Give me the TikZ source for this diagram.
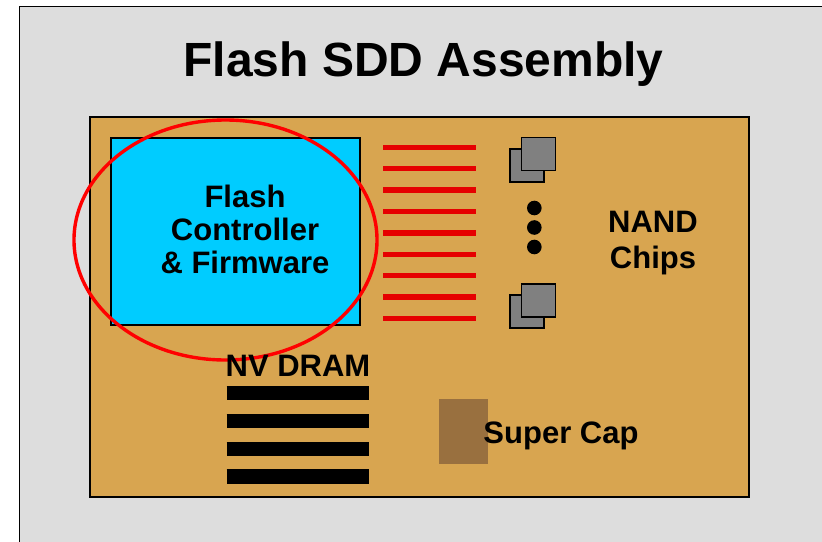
\documentclass[tikz,border=0pt]{standalone}
\usepackage{fontspec}
\setmainfont{Liberation Sans}
\usetikzlibrary{positioning}
\definecolor{bggray}{HTML}{DDDDDD}
\definecolor{boardtan}{HTML}{D8A550}
\definecolor{ctrlblue}{HTML}{00CCFF}
\definecolor{tracered}{HTML}{E60000}
\definecolor{chipgray}{HTML}{808080}
\definecolor{capbrown}{HTML}{99703F}

\begin{document}
\begin{tikzpicture}[
    x=1pt, y=-1pt,
    lbl/.style={inner sep=0pt, align=center,
                font=\fontsize{31}{32.6}\selectfont\bfseries},
    chip/.style={rectangle, fill=chipgray, draw=black, line width=1.8pt,
                 minimum width=34pt, minimum height=33pt, inner sep=0pt},
    part/.style={rectangle, draw=black, line width=1.4pt, inner sep=0pt}
  ]

  % ---- Canvas ----
  \useasboundingbox (0,0) rectangle (822,541);
  \clip (0,0) rectangle (822,541);
  \fill[white] (0,0) rectangle (822,541);
  \draw[fill=bggray, line width=1.6pt] (19.5,6.5) rectangle (860,580);

  % ---- Title ----
  \node[inner sep=0pt, font=\fontsize{48}{58}\selectfont\bfseries]
    (title) at (423.5,64.5) {Flash SDD Assembly};

  % ---- Board ----
  \node[part, fill=boardtan, minimum width=659pt, minimum height=380pt]
    (board) at (419.5,307) {};

  % ---- Controller ----
  \node[part, fill=ctrlblue, minimum width=249pt, minimum height=187pt]
    (ctrl) at (235.5,231.5) {};
  \node[lbl] (ctrltext) at (245,229.5) {Flash\\Controller\\\& Firmware};

  % highlight ring
  \draw[red, line width=3.4pt] (225.5,240) ellipse [x radius=151.5pt, y radius=120pt];

  % ---- Traces to NAND ----
  \foreach \i in {0,...,8}
    \draw[tracered, line width=5.5pt] (383.3,147.3+21.4*\i) -- (476,147.3+21.4*\i);

  % ---- NAND chips ----
  \node[chip] (nandTback) at (527,165.5) {};
  \node[chip] (nandTfront) at (538.5,154) {};
  \node[chip] (nandBback) at (527,311.5) {};
  \node[chip] (nandBfront) at (538.5,300.3) {};

  \foreach \y in {208,227.5,247}
    \fill[black] (534.3,\y) circle (7.3pt);

  \node[lbl, font=\fontsize{31}{36.3}\selectfont\bfseries]
    (nandtext) at (653,243) {NAND\\Chips};

  % ---- NV DRAM ----
  \node[lbl] (dramtext) at (298,365.5) {NV DRAM};
  \foreach \y in {393,421,449,476.5}
    \draw[black, line width=14.5pt] (226.7,\y) -- (369,\y);

  % ---- Super cap ----
  \node[rectangle, fill=capbrown, minimum width=49pt, minimum height=64.7pt,
        inner sep=0pt] (supercap) at (463.5,431.4) {};
  \node[lbl] (captext) at (561,435.5) {Super Cap};

\end{tikzpicture}
\end{document}
